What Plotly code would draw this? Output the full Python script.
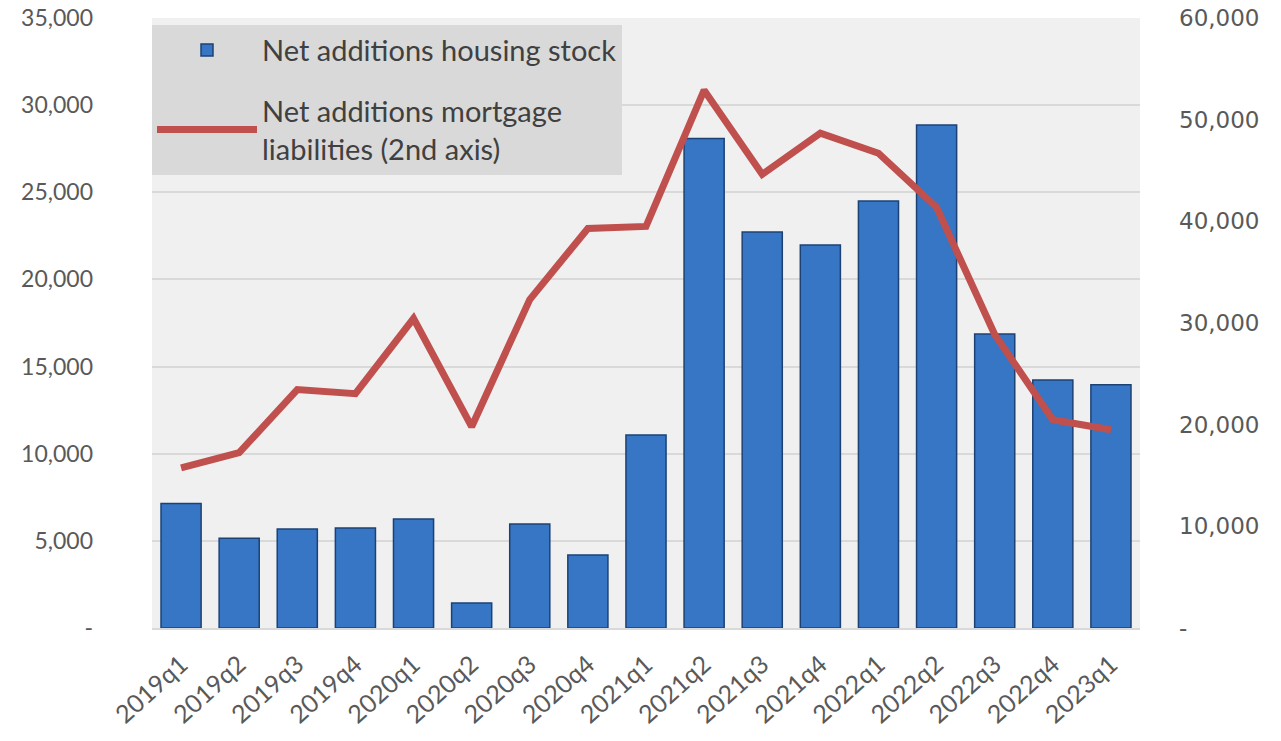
import plotly.graph_objects as go

quarters = ["2019q1", "2019q2", "2019q3", "2019q4", "2020q1", "2020q2", "2020q3", "2020q4",
            "2021q1", "2021q2", "2021q3", "2021q4", "2022q1", "2022q2", "2022q3", "2022q4", "2023q1"]
housing_stock = [7150, 5150, 5680, 5740, 6250, 1430, 5970, 4190,
                 11070, 28080, 22720, 21970, 24500, 28860, 16870, 14230, 13960]
mortgage_liabilities = [15760, 17240, 23450, 23050, 30440, 19800, 32310, 39300,
                        39500, 52900, 44630, 48670, 46700, 41380, 28870, 20490, 19500]

left_ticks = [0, 5000, 10000, 15000, 20000, 25000, 30000, 35000]
left_labels = ["-", "5,000", "10,000", "15,000", "20,000", "25,000", "30,000", "35,000"]
right_ticks = [0, 10000, 20000, 30000, 40000, 50000, 60000]
right_labels = ["-", "10,000", "20,000", "30,000", "40,000", "50,000", "60,000"]

text_color = "#595959"

fig = go.Figure()
fig.add_trace(go.Bar(
    x=quarters, y=housing_stock, name="Net additions housing stock",
    marker=dict(color="#3676c4", line=dict(color="#1c4275", width=1.5)),
    legendgroup="a", yaxis="y",
))
fig.add_trace(go.Scatter(
    x=quarters, y=mortgage_liabilities,
    name="Net additions mortgage<br>liabilities (2nd axis)",
    mode="lines", line=dict(color="#c0504d", width=7),
    legendgroup="b", yaxis="y2",
))

fig.update_layout(
    width=1281, height=741,
    margin=dict(l=152, r=141, t=18, b=113),
    paper_bgcolor="white", plot_bgcolor="#f0f0f0",
    bargap=0.31,
    font=dict(family="Lato, Open Sans, sans-serif", color=text_color),
    legend=dict(
        x=0.0, y=0.989, xanchor="left", yanchor="top",
        bgcolor="#d9d9d9", font=dict(size=29, color="#404040"),
        traceorder="grouped", tracegroupgap=20, itemwidth=100,
    ),
    xaxis=dict(
        tickangle=-42, tickfont=dict(size=25, color=text_color),
        showline=True, linecolor="#d9d9d9", linewidth=2, showgrid=False,
        automargin=False, ticklabelstandoff=10,
    ),
    yaxis=dict(
        range=[0, 35000], tickvals=left_ticks, ticktext=left_labels,
        tickfont=dict(size=23, color=text_color),
        gridcolor="#d9d9d9", gridwidth=2, zeroline=False,
        ticklabelstandoff=58, automargin=False,
    ),
    yaxis2=dict(
        range=[0, 60000], tickvals=right_ticks, ticktext=right_labels,
        overlaying="y", side="right", showgrid=False, zeroline=False,
        tickfont=dict(family="DejaVu Sans", size=23, color=text_color),
        ticklabelstandoff=38, automargin=False,
    ),
)

fig.write_html("out.html")
